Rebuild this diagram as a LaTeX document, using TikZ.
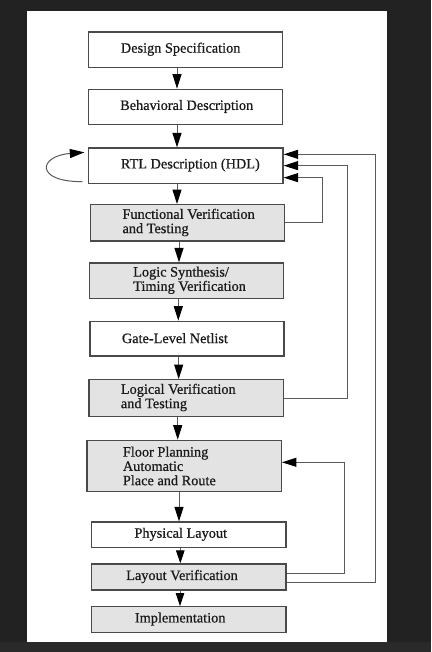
\documentclass[tikz,border=0pt]{standalone}
\usepackage{fontspec}
\setmainfont{Liberation Serif}[FakeBold=0.6]
\usetikzlibrary{arrows.meta}
\definecolor{bgdark}{HTML}{222222}
\definecolor{bgband}{HTML}{2A2A2A}
\definecolor{boxline}{HTML}{4A4A4A}
\definecolor{wire}{HTML}{5A5A5A}
\definecolor{boxfill}{HTML}{E3E3E3}
\definecolor{txtcol}{HTML}{1A1A1A}
\tikzset{
  box/.style={draw=boxline, line width=1.3pt, rectangle, inner sep=0pt},
  grey/.style={box, fill=boxfill},
  plain/.style={box, fill=white},
  txt/.style={anchor=west, inner sep=0pt, align=left, text=txtcol,
    font=\fontsize{14.3}{14.3}\selectfont},
  arr/.style={draw=wire, line width=1pt, -{Triangle[length=14.5pt,width=9pt,color=black]}},
  sarr/.style={draw=wire, line width=1pt, -{Triangle[length=13pt,width=8.5pt,color=black]}}
}
\begin{document}
\begin{tikzpicture}[x=1pt,y=-1pt]
\useasboundingbox (0,0) rectangle (431,652);
\fill[bgdark] (0,0) rectangle (431,652);
\fill[bgband] (0,642) rectangle (431,652);
\fill[white] (27,11) rectangle (387,642);

% boxes
\node[plain, minimum width=194pt, minimum height=35.3pt] (b1) at (185.7,49.65) {};
\node[plain, minimum width=194.4pt, minimum height=35.4pt] (b2) at (185.5,107) {};
\node[plain, minimum width=194.3pt, minimum height=35.3pt] (b3) at (185.85,165.65) {};
\node[grey, minimum width=194pt, minimum height=36.3pt] (b4) at (187.7,222.85) {};
\node[grey, minimum width=194.4pt, minimum height=35.3pt] (b5) at (186.5,280.65) {};
\node[plain, minimum width=194pt, minimum height=34.7pt] (b6) at (187,338.65) {};
\node[grey, minimum width=194.3pt, minimum height=36.6pt] (b7) at (186.15,398) {};
\node[grey, minimum width=194.3pt, minimum height=51.4pt] (b8) at (184.15,466) {};
\node[plain, minimum width=194.3pt, minimum height=25.7pt] (b9) at (188.85,534.85) {};
\node[grey, minimum width=194.3pt, minimum height=26pt] (b10) at (188.85,577) {};
\node[grey, minimum width=194.3pt, minimum height=25.6pt] (b11) at (188.85,619.5) {};

% texts
\node[txt] (t1) at (120.7,49.2) {Design Specification};
\node[txt] (t2) at (120,106.5) {Behavioral Description};
\node[txt] (t3) at (120.7,165) {RTL Description (HDL)};
\node[txt] (t4) at (122.3,222.5) {Functional Verification\\and Testing};
\node[txt] (t5) at (133,280.3) {Logic Synthesis/\\Timing Verification};
\node[txt] (t6) at (121.7,338.2) {Gate-Level Netlist};
\node[txt] (t7) at (120.7,397.5) {Logical Verification\\and Testing};
\node[txt] (t8) at (122.7,466) {Floor Planning\\Automatic\\Place and Route};
\node[txt] (t9) at (134.3,534.3) {Physical Layout};
\node[txt] (t10) at (126,576.5) {Layout Verification};
\node[txt] (t11) at (134.7,619) {Implementation};

% x positions of the vertical arrows
\coordinate (a1) at (177,0);
\coordinate (a2) at (177,0);
\coordinate (a3) at (177,0);
\coordinate (a4) at (179,0);
\coordinate (a5) at (178.3,0);
\coordinate (a6) at (178.7,0);
\coordinate (a7) at (177.7,0);
\coordinate (a8) at (179,0);
\coordinate (a9) at (180.3,0);
\coordinate (a10) at (180,0);

\draw[arr] (b1.south -| a1) -- (b2.north -| a1);
\draw[arr] (b2.south -| a2) -- (b3.north -| a2);
\draw[arr] (b3.south -| a3) -- (b4.north -| a3);
\draw[arr] (b4.south -| a4) -- (b5.north -| a4);
\draw[arr] (b5.south -| a5) -- (b6.north -| a5);
\draw[arr] (b6.south -| a6) -- (b7.north -| a6);
\draw[arr] (b7.south -| a7) -- (b8.north -| a7);
\draw[arr] (b8.south -| a8) -- (b9.north -| a8);
\draw[sarr] (b9.south -| a9) -- (b10.north -| a9);
\draw[sarr] (b10.south -| a10) -- (b11.north -| a10);

% self loop on RTL
\draw[arr] ([xshift=-5.7pt,yshift=-16pt]b3.west) .. controls (35,182) and (38,156) .. ([xshift=-3.7pt,yshift=13.3pt]b3.west);

% feedback lines
\draw[arr] (b4.east) -- ++(37,0) |- ([yshift=-12pt]b3.east);
\draw[arr] (b7.east) -- ++(64,0) |- (b3.east);
\draw[arr] ([yshift=-5.3pt]b10.east) -- ++(89,0) |- ([yshift=11.3pt]b3.east);
\draw[arr] ([yshift=3.7pt]b10.east) -- ++(58,0) |- ([yshift=3.7pt]b8.east);
\end{tikzpicture}
\end{document}
